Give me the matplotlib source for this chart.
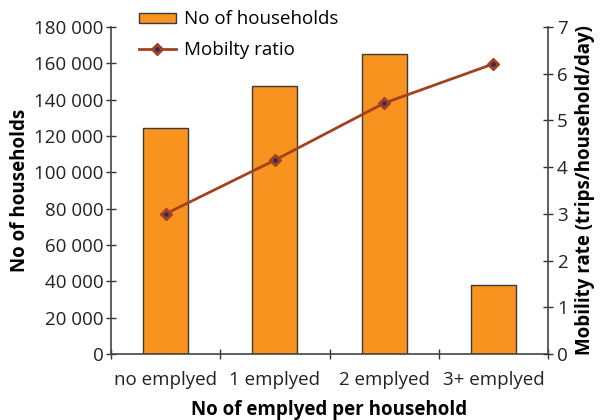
import matplotlib
matplotlib.use("Agg")
import matplotlib.pyplot as plt
import numpy as np
from matplotlib.ticker import FuncFormatter, MultipleLocator
from matplotlib.lines import Line2D

plt.rcParams['font.family'] = ['Open Sans', 'DejaVu Sans']

categories = ["no emplyed", "1 emplyed", "2 emplyed", "3+ emplyed"]
households = [124500, 147500, 165000, 38000]
mobility = [3.0, 4.15, 5.37, 6.21]

FS = 13.5
fig = plt.figure(figsize=(6.04, 4.2), dpi=100)
ax = fig.add_axes([111/604, 1-354/420, (548-111)/604, (354-27)/420])
x = np.arange(len(categories))
bars = ax.bar(x, households, width=0.41, color="#F7931E", edgecolor="#3a3a3a",
              linewidth=1.0, label="No of households", zorder=2)
ax.set_xlim(-0.5, len(categories)-0.5)
ax.set_ylim(0, 180000)
ax.yaxis.set_major_locator(MultipleLocator(20000))
ax.yaxis.set_major_formatter(FuncFormatter(lambda v, p: f"{int(v):,}".replace(",", " ")))
ax.set_xticks(x)
ax.set_xticklabels(categories)
ax.set_xticks(np.arange(-0.5, len(categories), 1.0), minor=True)
ax.tick_params(axis='x', which='major', length=0, pad=12, labelsize=FS, colors="#222222")
ax.tick_params(axis='x', which='minor', direction='inout', length=7, width=1, color="#333333")
ax.tick_params(axis='y', direction='inout', length=7, width=1, color="#333333",
               labelsize=FS, labelcolor="#222222", pad=2)
for s in ['top', 'right']:
    ax.spines[s].set_visible(False)
for s in ['left', 'bottom']:
    ax.spines[s].set_color("#444444")
    ax.spines[s].set_linewidth(1.2)
ax.set_xlabel("No of emplyed per household", fontsize=FS, fontweight='bold', labelpad=8)
ax.set_ylabel("No of households", fontsize=FS, fontweight='bold', labelpad=3)

ax2 = ax.twinx()
ax2.set_ylim(0, 7)
ax2.yaxis.set_major_locator(MultipleLocator(1))
ax2.plot(x, mobility, color="#A3411F", linewidth=2.0, marker='D', markersize=6.5,
         markerfacecolor="#A3411F", markeredgecolor="#A3411F", zorder=3)
ax2.plot(x, mobility, linestyle='none', marker='o', markersize=2.2,
         markerfacecolor="#2c2a6a", markeredgecolor="#2c2a6a", zorder=4)
for s in ['top', 'left', 'bottom']:
    ax2.spines[s].set_visible(False)
ax2.spines['right'].set_color("#444444")
ax2.spines['right'].set_linewidth(1.2)
ax2.tick_params(axis='y', direction='inout', length=7, width=1, color="#333333",
                labelsize=FS, labelcolor="#222222", pad=3)
ax2.set_ylabel("Mobility rate (trips/household/day)", fontsize=FS, fontweight='bold', labelpad=5)

line_handle = (Line2D([], [], color="#A3411F", linewidth=2.0, marker='D', markersize=6.5,
                      markerfacecolor="#A3411F", markeredgecolor="#A3411F"),
               Line2D([], [], linestyle='none', marker='o', markersize=2.2,
                      markerfacecolor="#2c2a6a", markeredgecolor="#2c2a6a"))
fig.legend(handles=[bars, line_handle], labels=["No of households", "Mobilty ratio"],
           loc='upper left', bbox_to_anchor=(131/604, 1-3/420), frameon=False,
           fontsize=FS, handlelength=2.0, handleheight=0.5, handletextpad=0.4,
           labelspacing=0.65, borderaxespad=0)

fig.savefig("out.png", dpi=100)
